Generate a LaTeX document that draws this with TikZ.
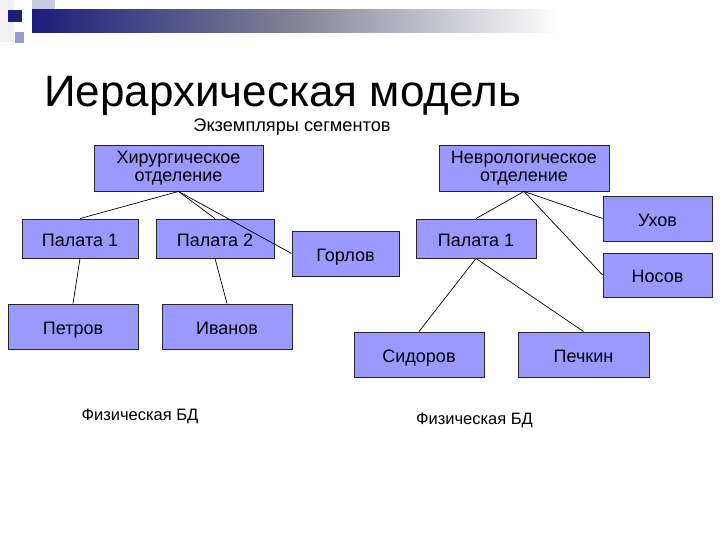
\documentclass[tikz,border=0pt]{standalone}
\usepackage{fontspec}
\setmainfont{Liberation Sans}
\usepackage{xcolor}
\usepackage{tikz}
\usetikzlibrary{positioning}

\definecolor{segfill}{HTML}{9999FF}
\definecolor{barnavy}{HTML}{1C1C7C}
\definecolor{lavlight}{HTML}{CACAE6}
\definecolor{lavmid}{HTML}{9A9AD0}

\tikzset{
  seg/.style={draw=black!85, line width=0.9pt, fill=segfill, inner sep=0pt,
    align=center, font=\fontsize{18}{20.5}\selectfont},
  row/.style={seg, text height=17pt, text depth=2pt},
  link/.style={line width=0.7pt, black},
  caption/.style={font=\fontsize{16.5}{20}\selectfont}
}

\begin{document}
\begin{tikzpicture}[x=1pt, y=-1pt]
  \useasboundingbox (0,0) rectangle (720,540);

  % slide decoration
  \fill[black!6] (0,0) rectangle (14,42);
  \fill[lavlight] (32,0) rectangle (55,22);
  \shade[left color=barnavy, right color=white, middle color=black!35!lavlight] (32,10) rectangle (560,33);
  \fill[barnavy] (8,10) rectangle (22,22);
  \fill[lavmid] (15,32) rectangle (24,43);

  % titles
  \node[anchor=base west, font=\fontsize{44}{48}\selectfont, inner sep=0pt] (title) at (44,107) {Иерархическая модель};
  \node[font=\fontsize{18.2}{20}\selectfont] (subt) at (292,127) {Экземпляры сегментов};

  % departments
  \node[seg, minimum width=169, minimum height=46] (hir) at (178.5,168) {Хирургическое\\[-2pt]отделение};
  \node[seg, minimum width=170, minimum height=46] (nev) at (524,168) {Неврологическое\\[-2pt]отделение};

  % wards and patients
  \node[row, minimum width=116, minimum height=39] (wardA) at (80,238.5) {Палата 1};
  \node[row, minimum width=118, minimum height=39] (wardB) at (215,238.5) {Палата 2};
  \node[row, minimum width=107, minimum height=45] (gor) at (345.5,253.5) {Горлов};
  \node[row, minimum width=120, minimum height=39] (wardC) at (476,238.5) {Палата 1};
  \node[row, minimum width=109, minimum height=45] (uh) at (657.5,218.5) {Ухов};
  \node[row, minimum width=109, minimum height=44] (nos) at (657.5,275) {Носов};
  \node[row, minimum width=130, minimum height=45] (pet) at (73,326.5) {Петров};
  \node[row, minimum width=130, minimum height=45] (iv) at (227,326.5) {Иванов};
  \node[row, minimum width=130, minimum height=45] (sid) at (419,354.5) {Сидоров};
  \node[row, minimum width=131, minimum height=45] (pech) at (583.5,354.5) {Печкин};

  % links
  \foreach \a/\b in {hir.south/wardA.north, hir.south/wardB.north, hir.south/gor.west,
                     wardA.south/pet.north, wardB.south/iv.north,
                     nev.south/wardC.north, nev.south/uh.west, nev.south/nos.west,
                     wardC.south/sid.north, wardC.south/pech.north}
    \draw[link] (\a) -- (\b);

  \node[caption] (dbA) at (140,416) {Физическая БД};
  \node[caption] (dbB) at (474.5,420) {Физическая БД};
\end{tikzpicture}
\end{document}
